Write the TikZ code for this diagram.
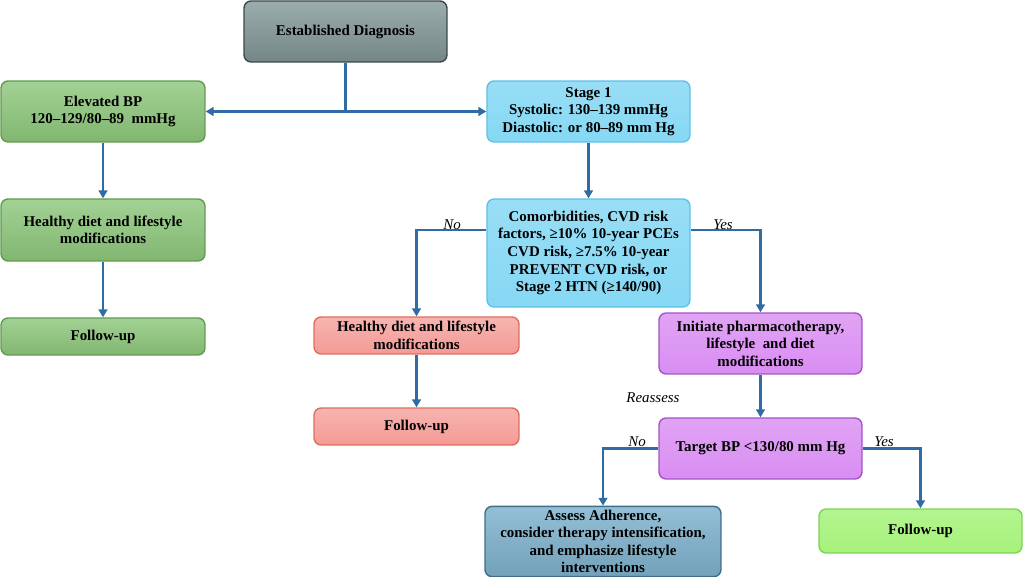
\documentclass[tikz,border=0pt]{standalone}
\usepackage{fontspec}
\setmainfont{Liberation Serif}
\usepackage{tikz}
\usetikzlibrary{arrows.meta}
\definecolor{bplink}{HTML}{2F6CA3}
\definecolor{bpgray}{HTML}{8A9E9E}
\definecolor{bpgrayline}{HTML}{3A4848}
\definecolor{bpgreen}{HTML}{8CC67A}
\definecolor{bpgreenline}{HTML}{5F9B4D}
\definecolor{bpblue}{HTML}{86D8F4}
\definecolor{bpblueline}{HTML}{5CC2E6}
\definecolor{bpred}{HTML}{F4A29D}
\definecolor{bpredline}{HTML}{DF6D5C}
\definecolor{bppurple}{HTML}{D98DF2}
\definecolor{bppurpleline}{HTML}{A552C8}
\definecolor{bpsteel}{HTML}{80B3CF}
\definecolor{bpsteelline}{HTML}{3F6E88}
\definecolor{bplime}{HTML}{A6F27C}
\definecolor{bplimeline}{HTML}{7BD452}
\tikzset{
  flowbox/.style={rounded corners=4pt, line width=0.8pt, align=center,
    font=\fontsize{8.5}{10}\selectfont\bfseries, inner sep=2pt},
  graybox/.style={flowbox, draw=bpgrayline, top color=bpgray!85!white, bottom color=bpgray!85!black},
  greenbox/.style={flowbox, draw=bpgreenline, top color=bpgreen!80!white, bottom color=bpgreen!92!black},
  bluebox/.style={flowbox, draw=bpblueline, top color=bpblue!85!white, bottom color=bpblue},
  redbox/.style={flowbox, draw=bpredline, top color=bpred!80!white, bottom color=bpred!95!red},
  purplebox/.style={flowbox, draw=bppurpleline, top color=bppurple!80!white, bottom color=bppurple},
  steelbox/.style={flowbox, draw=bpsteelline, top color=bpsteel!85!white, bottom color=bpsteel!90!black},
  limebox/.style={flowbox, draw=bplimeline, top color=bplime!85!white, bottom color=bplime},
  link/.style={draw=bplink, line width=1.2pt, -{Triangle[length=4.5pt,width=5pt]}},
  plain/.style={draw=bplink, line width=1.2pt},
  tag/.style={font=\fontsize{8.5}{10}\selectfont\itshape, inner sep=1pt}
}
\begin{document}
\begin{tikzpicture}[x=0.02cm, y=-0.02cm]
\useasboundingbox (0,0) rectangle (1024,577);

% boxes
\node[graybox, minimum width=4.06cm, minimum height=1.22cm] (diag) at (345.5,31.5) {Established Diagnosis};
\node[greenbox, minimum width=4.08cm, minimum height=1.22cm] (elev) at (103,111.5) {Elevated BP\\120--129/80--89~~mmHg};
\node[bluebox, minimum width=4.06cm, minimum height=1.22cm] (stage) at (588.5,111.5) {Stage 1\\Systolic: 130--139 mmHg\\Diastolic: or 80--89 mm Hg};
\node[greenbox, minimum width=4.08cm, minimum height=1.24cm] (lhealthy) at (103,230) {Healthy diet and lifestyle\\modifications};
\node[greenbox, minimum width=4.08cm, minimum height=0.74cm] (lfollow) at (103,336.5) {Follow-up};
\node[bluebox, minimum width=4.06cm, minimum height=2.16cm] (comorb) at (588.5,253) {Comorbidities, CVD risk\\factors, ≥10\% 10-year PCEs\\CVD risk, ≥7.5\% 10-year\\PREVENT CVD risk, or\\Stage 2 HTN (≥140/90)};
\node[redbox, minimum width=4.1cm, minimum height=0.74cm] (mhealthy) at (416.5,335.5) {Healthy diet and lifestyle\\modifications};
\node[redbox, minimum width=4.1cm, minimum height=0.74cm] (mfollow) at (416.5,426.5) {Follow-up};
\node[purplebox, minimum width=4.06cm, minimum height=1.22cm] (init) at (760.5,343.5) {Initiate pharmacotherapy,\\lifestyle~~and diet\\modifications};
\node[purplebox, minimum width=4.06cm, minimum height=1.22cm] (target) at (760.5,448.5) {Target BP <130/80 mm Hg};
\node[steelbox, minimum width=4.72cm, minimum height=1.34cm] (assess) at (603,541.5) {Assess Adherence,\\consider therapy intensification,\\and emphasize lifestyle\\interventions};
\node[limebox, minimum width=4.06cm, minimum height=0.88cm] (rfollow) at (920.5,531) {Follow-up};

% connectors
\coordinate (split) at (diag.south |- elev.east);
\draw[plain] (diag.south) -- (split);
\draw[link] (split) -- (elev.east);
\draw[link] (split) -- (stage.west);
\draw[link] (elev.south) -- (lhealthy.north);
\draw[link] (lhealthy.south) -- (lfollow.north);
\draw[link] (stage.south) -- (comorb.north);
\draw[link] ([yshift=0.46cm]comorb.west) -| (mhealthy.north);
\draw[link] ([yshift=0.46cm]comorb.east) -| (init.north);
\draw[link] (mhealthy.south) -- (mfollow.north);
\draw[link] (init.south) -- (target.north);
\draw[link] (target.west) -| (assess.north);
\draw[link] (target.east) -| (rfollow.north);

% labels
\node[tag] (noa) at (452,225) {No};
\node[tag] (yesa) at (723,225) {Yes};
\node[tag] (reassess) at (653,398) {Reassess};
\node[tag] (nob) at (637,442) {No};
\node[tag] (yesb) at (884,442) {Yes};
\end{tikzpicture}
\end{document}
